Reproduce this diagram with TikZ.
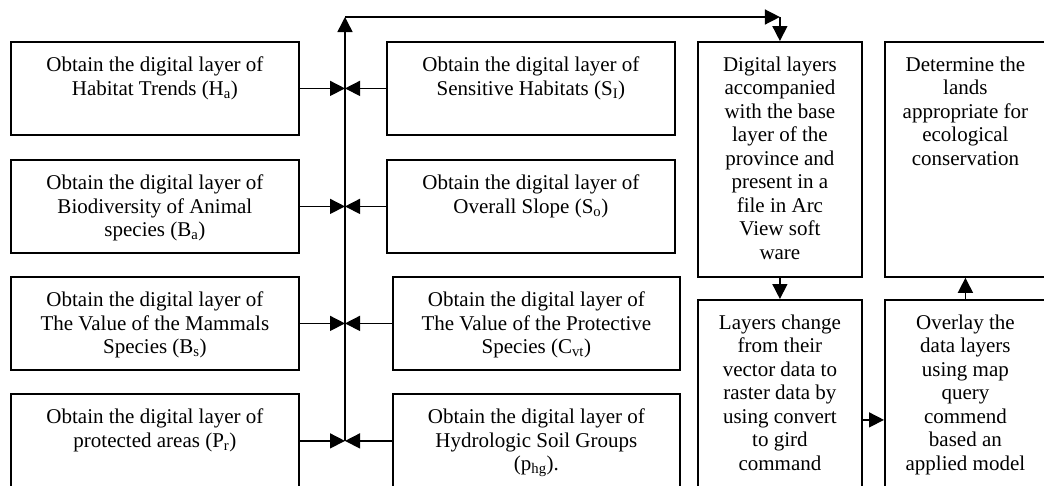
\documentclass[tikz,border=0pt]{standalone}
\usepackage{fontspec}
\setmainfont{Liberation Serif}
\usetikzlibrary{arrows.meta,calc}
\begin{document}
\begin{tikzpicture}[x=1pt,y=-1pt,
  box/.style={draw, line width=1.8pt, inner sep=0pt, anchor=north west},
  txt/.style={inner sep=0pt, anchor=north, align=center,
    font=\fontsize{21}{23.5}\selectfont},
  arr/.style={line width=1.5pt, -{Triangle[length=15pt,width=15pt]}}]
\useasboundingbox (0,0) rectangle (1044,485);
\clip (0,0) rectangle (1044,485);

% left column of input layers
\node[box, minimum width=288, minimum height=93] (ha) at (10,41) {};
\node[box, minimum width=288, minimum height=93] (ba) at (10,159) {};
\node[box, minimum width=288, minimum height=93] (bs) at (10,276) {};
\node[box, minimum width=288, minimum height=94] (pr) at (10,393) {};
% middle column of input layers
\node[box, minimum width=288, minimum height=93] (si) at (386,41) {};
\node[box, minimum width=288, minimum height=93] (so) at (386,159) {};
\node[box, minimum width=287, minimum height=93] (cv) at (392,276) {};
\node[box, minimum width=287, minimum height=94] (ph) at (392,393) {};
% processing steps
\node[box, minimum width=164, minimum height=235] (dl) at (697,41) {};
\node[box, minimum width=161, minimum height=235] (dt) at (884,41) {};
\node[box, minimum width=164, minimum height=240] (lc) at (697,299) {};
\node[box, minimum width=161, minimum height=240] (ov) at (884,299) {};

% box texts
\node[txt] at ($(ha.north)+(0,15.7)$) {Obtain the digital layer of\\Habitat Trends (H\textsubscript{a})};
\node[txt] at ($(ba.north)+(0,15.7)$) {Obtain the digital layer of\\Biodiversity of Animal\\species (B\textsubscript{a})};
\node[txt] at ($(bs.north)+(0,15.7)$) {Obtain the digital layer of\\The Value of the Mammals\\Species (B\textsubscript{s})};
\node[txt] at ($(pr.north)+(0,15.7)$) {Obtain the digital layer of\\protected areas (P\textsubscript{r})};
\node[txt] at ($(si.north)+(0,15.7)$) {Obtain the digital layer of\\Sensitive Habitats (S\textsubscript{I})};
\node[txt] at ($(so.north)+(0,15.7)$) {Obtain the digital layer of\\Overall Slope (S\textsubscript{o})};
\node[txt] at ($(cv.north)+(0,15.7)$) {Obtain the digital layer of\\The Value of the Protective\\Species (C\textsubscript{vt})};
\node[txt] at ($(ph.north)+(0,15.7)$) {Obtain the digital layer of\\Hydrologic Soil Groups\\(p\textsubscript{hg}).};
\node[txt] at ($(dl.north)+(0,15.7)$) {Digital layers\\accompanied\\with the base\\layer of the\\province and\\present in a\\file in Arc\\View soft\\ware};
\node[txt] at ($(dt.north)+(0,15.7)$) {Determine the\\lands\\appropriate for\\ecological\\conservation};
\node[txt] at ($(lc.north)+(0,15.7)$) {Layers change\\from their\\vector data to\\raster data by\\using convert\\to gird\\command};
\node[txt] at ($(ov.north)+(0,15.7)$) {Overlay the\\data layers\\using map\\query\\commend\\based an\\applied model};

% collecting bus between the two input columns
\coordinate (bus) at (345,0);
\coordinate (bustop) at (345,17);
\coordinate (busbot) at (bus |- pr.east);
\coordinate (corner) at (dl.north |- bustop);
\draw[arr] (busbot) -- (bustop);
\draw[arr] (bustop) -- (corner);
\draw[arr] (corner) -- (dl.north);

% every input layer feeds the bus
\foreach \n in {ha,ba,bs,pr}
  \draw[arr] (\n.east) -- (bus |- \n.east);
\foreach \n in {si,so,cv,ph}
  \draw[arr] (\n.west) -- (bus |- \n.west);

% processing chain
\draw[arr] (dl.south) -- (lc.north);
\draw[arr] (lc.east) -- (ov.west);
\draw[arr] (ov.north) -- (dt.south);
\end{tikzpicture}
\end{document}
